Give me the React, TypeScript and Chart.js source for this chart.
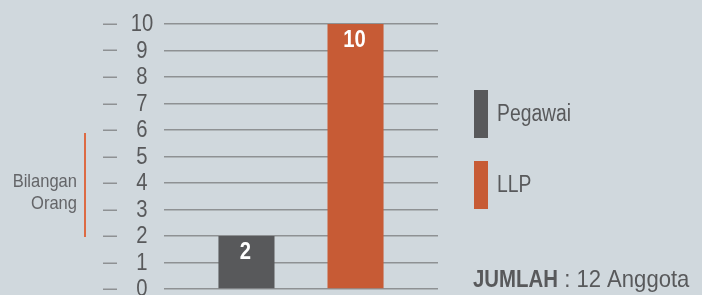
import React, { useEffect, useRef } from "react";
import { Chart, registerables } from "chart.js";

Chart.register(...registerables);

const seriesLabels = ["Pegawai", "LLP"];
const seriesValues = [2, 10];
const seriesColors = ["#58595b", "#c75b35"];
const yTickMin = 0;
const yTickMax = 10;
const yTickStep = 1;
const axisTitleLines = ["Bilangan", "Orang"];
const totalLabel = "JUMLAH";
const totalUnit = "Anggota";

const FONT = '"Liberation Sans", Arial, sans-serif';
const TEXT = "#58595b";
const BG = "#d0d8dd";

function drawText(ctx: any, text: string, x: number, y: number, font: string, align: string, sx: number) {
  ctx.save();
  ctx.font = font;
  const w = ctx.measureText(text).width * sx;
  let left = x;
  if (align === "center") left = x - w / 2;
  else if (align === "right") left = x - w;
  ctx.translate(left, y);
  ctx.scale(sx, 1);
  ctx.textAlign = "left";
  ctx.fillText(text, 0, 0);
  ctx.restore();
  return w;
}

const extrasPlugin = {
  id: "extras",
  afterDatasetsDraw(chart: any) {
    const ctx = chart.ctx;
    ctx.save();
    ctx.fillStyle = "#ffffff";
    ctx.textBaseline = "middle";
    chart.data.datasets.forEach((ds: any, i: number) => {
      const meta = chart.getDatasetMeta(i);
      meta.data.forEach((bar: any, j: number) => {
        drawText(ctx, String(ds.data[j]), bar.x - 1, bar.y + 17, `bold 23px ${FONT}`, "center", 0.88);
      });
    });
    ctx.restore();
  },
  afterDraw(chart: any) {
    const ctx = chart.ctx;
    const y = chart.scales.y;
    ctx.save();
    // tick dashes and labels
    y.ticks.forEach((t: any) => {
      const py = y.getPixelForValue(t.value);
      ctx.strokeStyle = "#8e9193";
      ctx.lineWidth = 1.5;
      ctx.beginPath();
      ctx.moveTo(103, Math.round(py) + 0.25);
      ctx.lineTo(117, Math.round(py) + 0.25);
      ctx.stroke();
      ctx.fillStyle = TEXT;
      ctx.textBaseline = "middle";
      drawText(ctx, String(t.value), 142, py + 1, `23px ${FONT}`, "center", 0.88);
    });
    // axis title
    ctx.fillStyle = "#646568";
    ctx.textBaseline = "alphabetic";
    drawText(ctx, axisTitleLines[0], 77, 187, `19px ${FONT}`, "right", 0.87);
    drawText(ctx, axisTitleLines[1], 77, 209, `19px ${FONT}`, "right", 0.87);
    // orange line
    ctx.strokeStyle = "#dd6a43";
    ctx.lineWidth = 2;
    ctx.beginPath();
    ctx.moveTo(85, 133);
    ctx.lineTo(85, 237);
    ctx.stroke();
    // legend
    const boxTops = [90, 161];
    seriesLabels.forEach((lab, i) => {
      ctx.fillStyle = seriesColors[i];
      ctx.fillRect(474, boxTops[i], 14, 48);
      ctx.fillStyle = TEXT;
      ctx.textBaseline = "middle";
      drawText(ctx, lab, 497, boxTops[i] + 25, `23px ${FONT}`, "left", 0.84);
    });
    // total
    const total = seriesValues.reduce((a, b) => a + b, 0);
    ctx.textBaseline = "alphabetic";
    ctx.fillStyle = TEXT;
    const w = drawText(ctx, totalLabel, 473, 287, `bold 24px ${FONT}`, "left", 0.85);
    drawText(ctx, ` : ${total} ${totalUnit}`, 473 + w, 287, `24px ${FONT}`, "left", 0.92);
    ctx.restore();
  },
};

export default function App() {
  const ref = useRef<HTMLCanvasElement>(null);
  useEffect(() => {
    if (!ref.current) return;
    const chart = new Chart(ref.current, {
      type: "bar",
      data: {
        labels: [""],
        datasets: seriesLabels.map((label, i) => ({
          label,
          data: [seriesValues[i]],
          backgroundColor: seriesColors[i],
          borderWidth: 0,
          categoryPercentage: 0.796,
          barPercentage: 0.514,
        })),
      },
      options: {
        animation: false,
        responsive: false,
        layout: { padding: { top: 24, bottom: 6, left: 0, right: 264 } },
        plugins: { legend: { display: false }, tooltip: { enabled: false } },
        scales: {
          x: { display: false, offset: true },
          y: {
            min: yTickMin,
            max: yTickMax,
            ticks: {
              stepSize: yTickStep,
              autoSkip: false,
              display: false,
            },
            border: { display: false },
            grid: { color: "#8e9193", lineWidth: 1.5, drawTicks: false },
            afterFit(scale: any) {
              scale.width = 164;
              scale.paddingTop = 0;
              scale.paddingBottom = 0;
            },
          },
        },
      },
      plugins: [extrasPlugin],
    });
    return () => chart.destroy();
  }, []);
  return (
    <div style={{ position: "fixed", left: 0, top: 0, width: 702, height: 295, background: BG }}>
      <canvas ref={ref} width={702} height={295} style={{ display: "block" }} />
    </div>
  );
}
